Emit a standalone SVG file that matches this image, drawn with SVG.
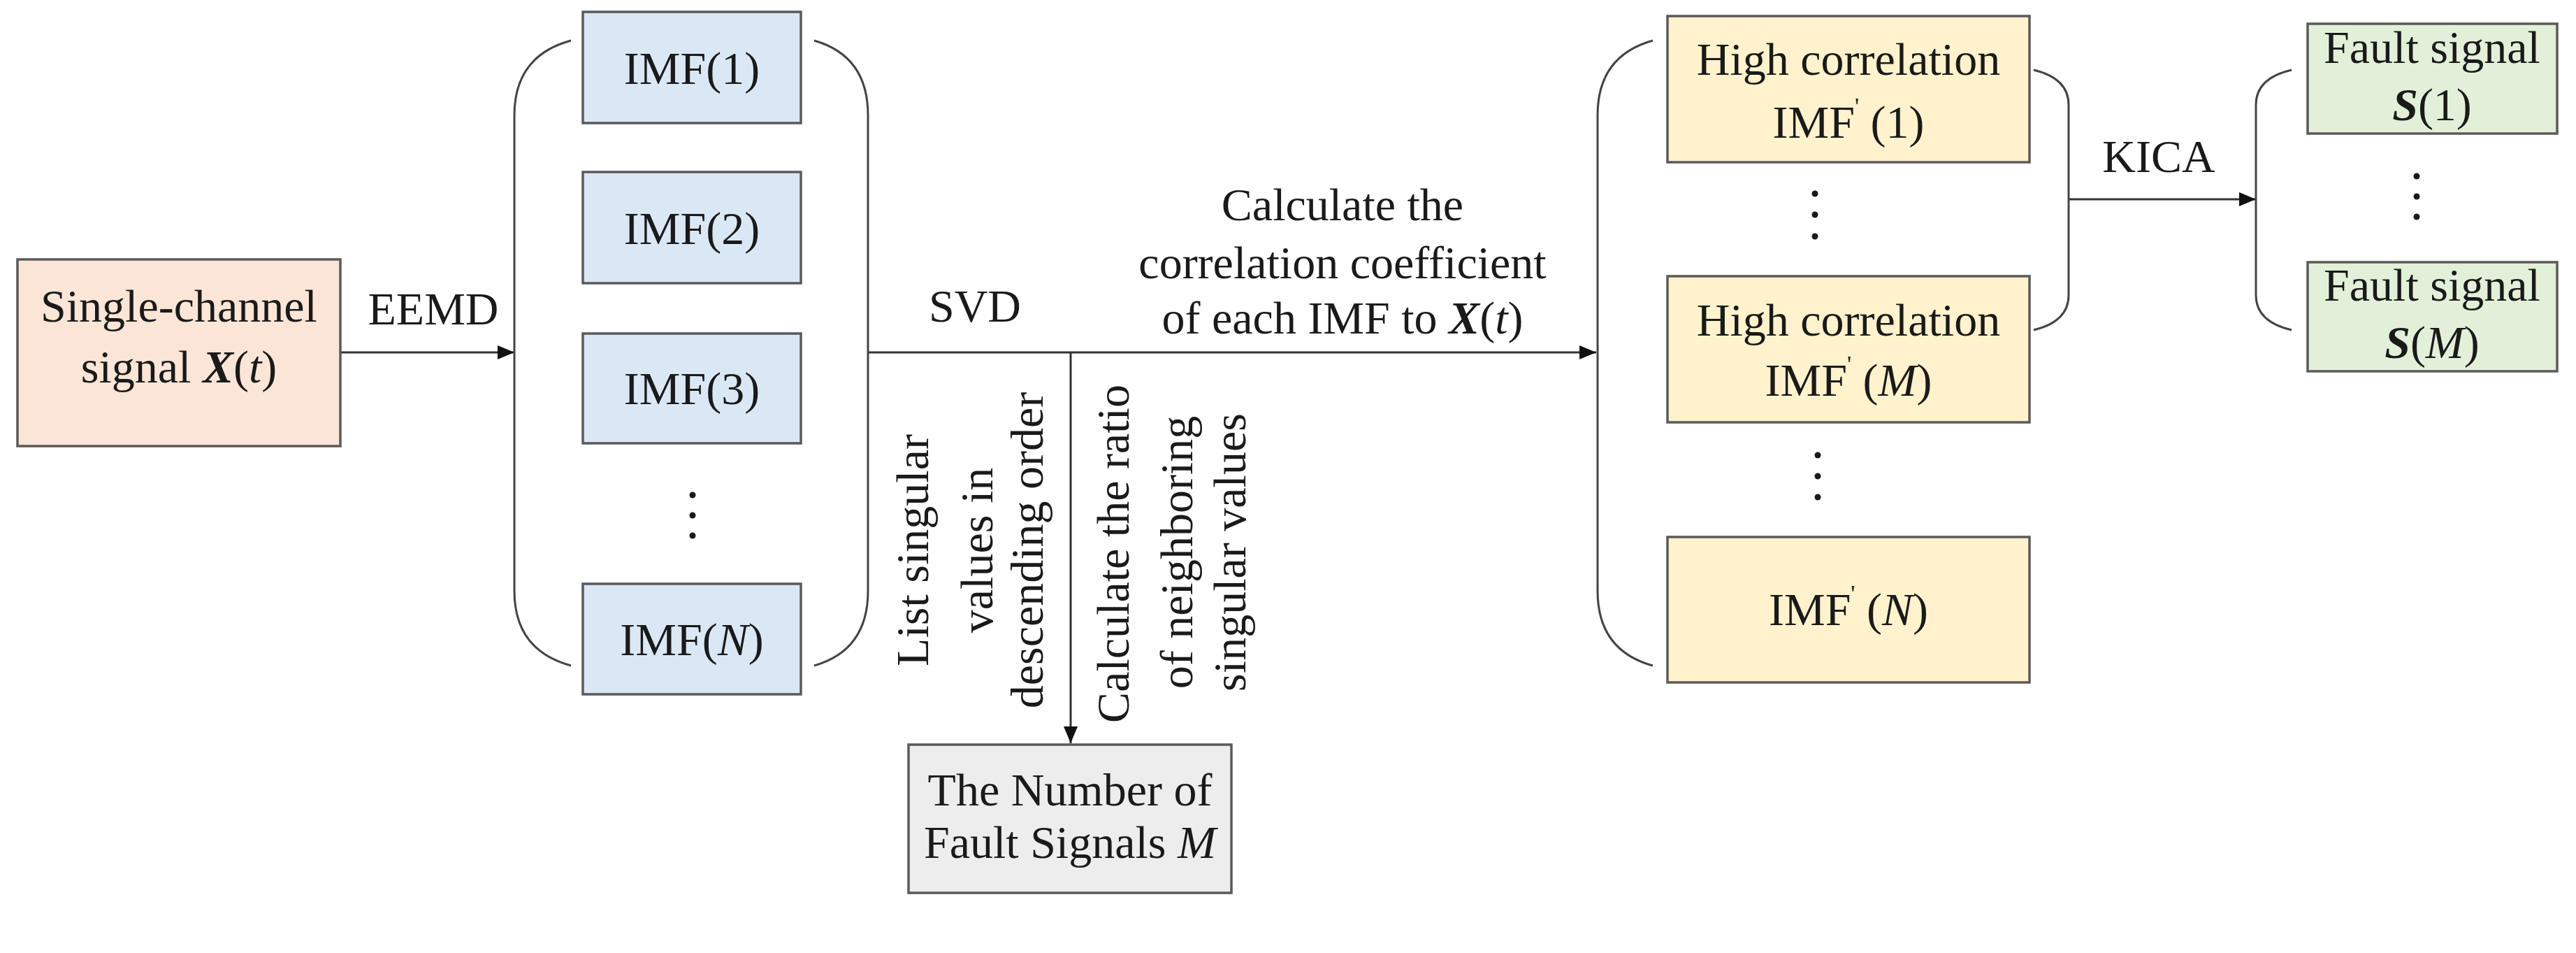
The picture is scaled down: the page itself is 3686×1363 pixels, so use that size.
<svg xmlns="http://www.w3.org/2000/svg" width="3686" height="1363" viewBox="0 0 3686 1363">
<defs>
<marker id="ah2" viewBox="0 0 10 10" refX="10" refY="5" markerWidth="24" markerHeight="20" markerUnits="userSpaceOnUse" orient="auto" preserveAspectRatio="none"><path d="M0,0 L10,5 L0,10 z" fill="#111"/></marker>
</defs>
<style>
text{font-family:"Liberation Serif","Times New Roman",serif;font-size:66px;fill:#1a1a1a;text-anchor:middle}
.b{stroke:#5a5a5a;stroke-width:3.5}
.c{fill:none;stroke:#333;stroke-width:3}
.br{fill:none;stroke:#444;stroke-width:3}
.d{fill:#1a1a1a}
</style>
<rect width="3686" height="1363" fill="#fff"/>
<g id="connectors">
<path class="c" d="M487 504 L736 504" marker-end="url(#ah2)"/>
<path class="c" d="M1242 504 L2284 504" marker-end="url(#ah2)"/>
<path class="c" d="M1532 504 L1532 1063" marker-end="url(#ah2)"/>
<path class="c" d="M2960 285 L3228 285" marker-end="url(#ah2)"/>
<path class="br" d="M817 58 Q736 80 736 165 L736 845 Q736 930 817 952"/>
<path class="br" d="M1165 58 Q1242 80 1242 165 L1242 845 Q1242 930 1165 952"/>
<path class="br" d="M2365 58 Q2286 80 2286 165 L2286 845 Q2286 930 2365 952"/>
<path class="br" d="M2910 100 Q2960 112 2960 150 L2960 422 Q2960 460 2910 472"/>
<path class="br" d="M3279 100 Q3228 112 3228 150 L3228 422 Q3228 460 3279 472"/>
<text x="620" y="464">EEMD</text>
<text x="1395" y="460">SVD</text>
<text x="1921" y="315">Calculate the</text>
<text x="1921" y="398">correlation coefficient</text>
<text x="1921" y="477">of each IMF to <tspan font-weight="bold" font-style="italic">X</tspan>(<tspan font-style="italic">t</tspan>)</text>
<text x="3089" y="246">KICA</text>
<text transform="translate(1328,787) rotate(-90)">List singular</text>
<text transform="translate(1420,787) rotate(-90)">values in</text>
<text transform="translate(1492,787) rotate(-90)">descending order</text>
<text transform="translate(1615,792) rotate(-90)">Calculate the ratio</text>
<text transform="translate(1706,790) rotate(-90)">of neighboring</text>
<text transform="translate(1782,790) rotate(-90)">singular values</text>
</g>
<g id="source">
<rect class="b" x="25" y="371" width="462" height="267" fill="#fbe5d6"/>
<text x="256" y="460">Single-channel</text>
<text x="256" y="547">signal <tspan font-weight="bold" font-style="italic">X</tspan>(<tspan font-style="italic">t</tspan>)</text>
</g>
<g id="imf1"><rect class="b" x="834" y="17" width="312" height="159" fill="#dae8f5"/><text x="990" y="120">IMF(1)</text></g>
<g id="imf2"><rect class="b" x="834" y="246" width="312" height="159" fill="#dae8f5"/><text x="990" y="349">IMF(2)</text></g>
<g id="imf3"><rect class="b" x="834" y="477" width="312" height="157" fill="#dae8f5"/><text x="990" y="578">IMF(3)</text></g>
<g id="imfdots"><circle class="d" cx="991" cy="708" r="4.5"/><circle class="d" cx="991" cy="737" r="4.5"/><circle class="d" cx="991" cy="766" r="4.5"/></g>
<g id="imfN"><rect class="b" x="834" y="835" width="312" height="158" fill="#dae8f5"/><text x="990" y="937">IMF(<tspan font-style="italic">N</tspan>)</text></g>
<g id="number">
<rect class="b" x="1300" y="1065" width="462" height="212" fill="#ededed"/>
<text x="1531" y="1152">The Number of</text>
<text x="1531" y="1227">Fault Signals <tspan font-style="italic">M</tspan></text>
</g>
<g id="hc1"><rect class="b" x="2386" y="23" width="518" height="209" fill="#fff2cc"/>
<text x="2645" y="107">High correlation</text>
<text x="2645" y="197">IMF<tspan font-size="34" dy="-34">'</tspan><tspan dy="34"> (1)</tspan></text></g>
<g id="hcdots1"><circle class="d" cx="2597" cy="277" r="4.5"/><circle class="d" cx="2597" cy="307" r="4.5"/><circle class="d" cx="2597" cy="338" r="4.5"/></g>
<g id="hcM"><rect class="b" x="2386" y="395" width="518" height="209" fill="#fff2cc"/>
<text x="2645" y="480">High correlation</text>
<text x="2645" y="566">IMF<tspan font-size="34" dy="-34">'</tspan><tspan dy="34"> (</tspan><tspan font-style="italic">M</tspan>)</text></g>
<g id="hcdots2"><circle class="d" cx="2601" cy="651" r="4.5"/><circle class="d" cx="2601" cy="681" r="4.5"/><circle class="d" cx="2601" cy="711" r="4.5"/></g>
<g id="hcN"><rect class="b" x="2386" y="768" width="518" height="208" fill="#fff2cc"/>
<text x="2645" y="894">IMF<tspan font-size="34" dy="-34">'</tspan><tspan dy="34"> (</tspan><tspan font-style="italic">N</tspan>)</text></g>
<g id="fs1"><rect class="b" x="3302" y="34" width="357" height="157" fill="#e2f0d9"/>
<text x="3480" y="90">Fault signal</text>
<text x="3480" y="172"><tspan font-weight="bold" font-style="italic">S</tspan>(1)</text></g>
<g id="fsdots"><circle class="d" cx="3458" cy="252" r="4.5"/><circle class="d" cx="3458" cy="281" r="4.5"/><circle class="d" cx="3458" cy="310" r="4.5"/></g>
<g id="fsM"><rect class="b" x="3302" y="375" width="357" height="156" fill="#e2f0d9"/>
<text x="3480" y="430">Fault signal</text>
<text x="3480" y="512"><tspan font-weight="bold" font-style="italic">S</tspan>(<tspan font-style="italic">M</tspan>)</text></g>
</svg>
